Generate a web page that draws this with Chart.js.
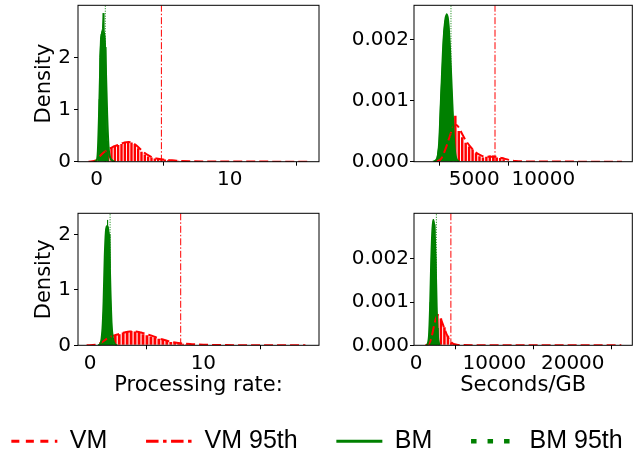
<!DOCTYPE html>
<html>
<head>
<meta charset="utf-8">
<script src="https://cdn.jsdelivr.net/npm/chart.js@4.4.0/dist/chart.umd.min.js"></script>
<style>
  html, body { margin: 0; padding: 0; background: #fff; overflow: hidden; }
  body { width: 639px; height: 452px; position: relative; }
  canvas { position: absolute; }
</style>
</head>
<body>
<canvas id="rateTop" width="320" height="210" style="left:0;top:0"></canvas>
<canvas id="secTop" width="319" height="210" style="left:320px;top:0"></canvas>
<canvas id="rateBottom" width="320" height="252" style="left:0;top:200px"></canvas>
<canvas id="secBottom" width="319" height="252" style="left:320px;top:200px"></canvas>
<canvas id="legendCanvas" width="700" height="120" style="left:-33.5px;top:389.5px"></canvas>
<script>
const RED = '#ff0000';
const GREEN = '#008000';

// Tick values and labels
const rateTicksX = [0, 10];
const rateTicksY = [0, 1, 2];
const rateTickLabelsY = ['0', '1', '2'];
const secTopTicksX = [5000, 10000];
const secBottomTicksX = [0, 10000, 20000];
const secTicksY = [0, 0.001, 0.002];
const secTickLabelsY = ['0.000', '0.001', '0.002'];

// Top left: processing rate
const rateTopVmBinX = [0.625, 0.875, 1.125, 1.375, 1.625, 1.875, 2.125, 2.375, 2.625, 2.875, 3.125, 3.375, 3.625, 3.875, 4.125, 4.375, 4.625, 4.875, 5.125, 5.375, 5.625, 5.875, 6.125, 6.375, 6.625, 6.875];
const rateTopVmBinY = [0.10, 0.21, 0.27, 0.30, 0.32, 0.34, 0.36, 0.38, 0.37, 0.33, 0.26, 0.19, 0.14, 0.10, 0.08, 0.06, 0.05, 0.04, 0.04, 0.03, 0.03, 0.02, 0.02, 0.01, 0.01, 0.01];
const rateTopVmKdeX = [-0.6, 0, 0.3, 0.6, 0.9, 1.2, 1.5, 1.8, 2.1, 2.4, 2.7, 3.0, 3.3, 3.6, 3.9, 4.2, 4.5, 5.0, 5.5, 6.0, 7.0, 8.0, 10, 12, 14, 16];
const rateTopVmKdeY = [0, 0.03, 0.12, 0.19, 0.24, 0.28, 0.31, 0.34, 0.37, 0.38, 0.36, 0.31, 0.24, 0.17, 0.12, 0.08, 0.06, 0.04, 0.03, 0.02, 0.01, 0.005, 0.003, 0.002, 0.001, 0];
const rateTopBmHistX = [0.1, 0.15, 0.2, 0.25, 0.3, 0.35, 0.4, 0.45, 0.5, 0.55, 0.6, 0.65, 0.7, 0.75, 0.8, 0.85, 0.9];
const rateTopBmHistY = [0, 0.3, 1.2, 2.0, 2.35, 2.45, 2.5, 2.55, 2.85, 2.5, 2.45, 2.2, 1.6, 0.9, 0.4, 0.1, 0];
const rateTopBmKdeX = [-0.2, 0, 0.1, 0.2, 0.3, 0.4, 0.5, 0.6, 0.7, 0.8, 0.9, 1.0, 1.2, 1.4];
const rateTopBmKdeY = [0, 0.02, 0.2, 1.0, 2.0, 2.45, 2.5, 2.4, 1.8, 0.9, 0.3, 0.1, 0.02, 0];
const rateTopP95 = [4.87, 0.66]; // VM, BM

// Top right: seconds per GB
const secTopVmBinX = [3375, 3625, 3875, 4125, 4375, 4625, 4875, 5125, 5375, 5625, 5875, 6125, 6375, 6625, 6875, 7125, 7375];
const secTopVmBinY = [0.00060, 0.00075, 0.00050, 0.00040, 0.00031, 0.00025, 0.00020, 0.00014, 0.00009, 0.00007, 0.00008, 0.00010, 0.00010, 0.00007, 0.00006, 0.00004, 0.00001];
const secTopVmKdeX = [2200, 2600, 2900, 3200, 3500, 3700, 3900, 4100, 4400, 4700, 5000, 5400, 5800, 6200, 6600, 7000, 7500, 8000, 9000, 11000, 13000, 15700];
const secTopVmKdeY = [0, 0.00005, 0.0002, 0.0004, 0.00058, 0.0006, 0.00055, 0.00046, 0.00034, 0.00025, 0.00017, 0.00011, 0.00008, 0.00008, 0.00008, 0.00006, 0.00003, 0.00001, 0.000004, 0.000002, 0.000001, 0];
const secTopBmHistX = [2150, 2300, 2450, 2560, 2680, 2780, 2880, 2950, 3000, 3050, 3120, 3200, 3280, 3330, 3400, 3500, 3600, 3700];
const secTopBmHistY = [0, 0.00005, 0.0003, 0.0010, 0.00155, 0.0021, 0.0023, 0.00235, 0.00242, 0.0023, 0.0023, 0.0020, 0.0016, 0.0013, 0.00095, 0.00035, 0.0001, 0];
const secTopBmKdeX = [2000, 2300, 2450, 2600, 2750, 2900, 3000, 3100, 3250, 3400, 3550, 3700, 3900];
const secTopBmKdeY = [0, 0.00005, 0.0003, 0.0011, 0.0019, 0.00232, 0.0024, 0.00232, 0.0018, 0.001, 0.0003, 0.00005, 0];
const secTopP95 = [6500, 3310];

// Bottom left: processing rate
const rateBottomVmBinX = [1.875, 2.225, 2.575, 2.925, 3.275, 3.625, 3.975, 4.325, 4.675, 5.025, 5.375, 5.725, 6.075, 6.425, 6.775, 7.125, 7.475, 7.825, 8.175, 8.525, 8.875, 9.225, 9.575];
const rateBottomVmBinY = [0.15, 0.18, 0.20, 0.23, 0.25, 0.26, 0.25, 0.23, 0.20, 0.18, 0.16, 0.14, 0.12, 0.10, 0.08, 0.06, 0.05, 0.04, 0.03, 0.02, 0.02, 0.01, 0.01];
const rateBottomVmKdeX = [-0.3, 0.5, 1.0, 1.5, 2.0, 2.5, 3.0, 3.5, 4.0, 4.5, 5.0, 5.5, 6.0, 6.5, 7.0, 7.5, 8.0, 9.0, 10, 12, 14, 16, 19];
const rateBottomVmKdeY = [0, 0.01, 0.05, 0.12, 0.17, 0.2, 0.23, 0.25, 0.25, 0.23, 0.2, 0.17, 0.13, 0.1, 0.07, 0.05, 0.035, 0.02, 0.01, 0.004, 0.002, 0.001, 0];
const rateBottomBmHistX = [0.9, 1.0, 1.1, 1.2, 1.27, 1.33, 1.38, 1.45, 1.5, 1.53, 1.57, 1.62, 1.7, 1.75, 1.8, 1.87, 1.95, 2.1];
const rateBottomBmHistY = [0, 0.05, 0.25, 0.65, 1.0, 1.6, 2.0, 2.1, 2.15, 2.26, 2.1, 2.05, 2.0, 1.4, 0.9, 0.4, 0.1, 0];
const rateBottomBmKdeX = [0.7, 0.9, 1.1, 1.2, 1.3, 1.4, 1.5, 1.6, 1.7, 1.8, 1.9, 2.0, 2.2, 2.4];
const rateBottomBmKdeY = [0, 0.02, 0.3, 0.8, 1.6, 2.05, 2.15, 2.1, 1.8, 1.0, 0.4, 0.15, 0.02, 0];
const rateBottomP95 = [8.0, 1.77];

// Bottom right: seconds per GB
const secBottomVmBinX = [2275, 2725, 3175, 3625, 4075, 4525, 4975, 5425];
const secBottomVmBinY = [0.00030, 0.00072, 0.00062, 0.00042, 0.00022, 0.00006, 0.00002, 0.00001];
const secBottomVmKdeX = [1200, 1700, 2000, 2300, 2600, 2800, 3000, 3300, 3600, 3900, 4200, 4500, 4800, 5200, 6000, 8000, 12000, 18000, 26200];
const secBottomVmKdeY = [0, 0.00005, 0.0002, 0.00045, 0.00065, 0.0007, 0.00068, 0.00055, 0.0004, 0.00026, 0.00014, 0.00007, 0.00003, 0.000015, 0.000005, 0.000002, 0.000001, 0.0000005, 0];
const secBottomBmHistX = [1600, 1700, 1800, 1900, 1970, 2050, 2150, 2220, 2300, 2400, 2520, 2600, 2700, 2800, 2900];
const secBottomBmHistY = [0, 0.0003, 0.0010, 0.0016, 0.0020, 0.0025, 0.0028, 0.00292, 0.0028, 0.0026, 0.0020, 0.0010, 0.0004, 0.0001, 0];
const secBottomBmKdeX = [1400, 1650, 1800, 1950, 2100, 2220, 2350, 2500, 2650, 2800, 3000];
const secBottomBmKdeY = [0, 0.0002, 0.0009, 0.002, 0.0027, 0.0029, 0.0027, 0.002, 0.0008, 0.0002, 0];
const secBottomP95 = [4450, 2600];

const tickFont = { family: 'DejaVu Sans', size: 20 };
const titleFont = { family: 'DejaVu Sans', size: 21 };

function pairs(xs, ys) {
  return xs.map((x, i) => ({ x: x, y: ys[i] }));
}

// Black box round the plot area, like matplotlib spines
const framePlugin = {
  id: 'frame',
  afterDatasetsDraw(chart) {
    const a = chart.chartArea;
    const ctx = chart.ctx;
    ctx.save();
    ctx.strokeStyle = '#000';
    ctx.lineWidth = 1;
    ctx.strokeRect(a.left, a.top, a.right - a.left, a.bottom - a.top);
    ctx.restore();
  }
};

function clearPadding(scale) {
  scale.paddingTop = 0;
  scale.paddingBottom = 0;
  scale.paddingLeft = 0;
  scale.paddingRight = 0;
}

// Build one density panel
function buildPanel(id, p) {
  const datasets = [
    {
      type: 'bar', label: 'VM hist', data: pairs(p.vmBinX, p.vmBinY),
      backgroundColor: RED, borderWidth: 0, categoryPercentage: 0.72, barPercentage: 1, order: 6
    },
    {
      type: 'line', label: 'BM hist', data: pairs(p.bmHistX, p.bmHistY),
      borderColor: GREEN, backgroundColor: GREEN, borderWidth: 1, fill: 'origin', pointRadius: 0, order: 5
    },
    {
      type: 'line', label: 'VM', data: pairs(p.vmKdeX, p.vmKdeY),
      borderColor: RED, borderWidth: 2, borderDash: [9, 4], pointRadius: 0, fill: false,
      cubicInterpolationMode: 'monotone', order: 4
    },
    {
      type: 'line', label: 'BM', data: pairs(p.bmKdeX, p.bmKdeY),
      borderColor: GREEN, borderWidth: 2, pointRadius: 0, fill: false,
      cubicInterpolationMode: 'monotone', order: 3
    },
    {
      type: 'line', label: 'VM 95th', data: [{ x: p.p95[0], y: 0 }, { x: p.p95[0], y: p.yMax }],
      borderColor: RED, borderWidth: 1, borderDash: [7, 2, 1.5, 2], pointRadius: 0, fill: false, order: 2
    },
    {
      type: 'line', label: 'BM 95th', data: [{ x: p.p95[1], y: 0 }, { x: p.p95[1], y: p.yMax }],
      borderColor: GREEN, borderWidth: 1, borderDash: [1, 1.5], pointRadius: 0, fill: false, order: 1
    }
  ];

  return new Chart(document.getElementById(id), {
    type: 'bar',
    data: { datasets: datasets },
    options: {
      responsive: false,
      animation: false,
      devicePixelRatio: 1,
      layout: { padding: { top: p.top, right: p.right, left: 0, bottom: 0 } },
      plugins: { legend: { display: false }, tooltip: { enabled: false } },
      scales: {
        x: {
          type: 'linear', min: p.xMin, max: p.xMax, offset: false,
          afterBuildTicks: (s) => { s.ticks = p.ticksX.map(v => ({ value: v })); },
          afterFit: (s) => { s.height = p.xHeight; clearPadding(s); },
          grid: { drawOnChartArea: false, drawTicks: true, tickLength: 4, tickColor: '#000' },
          border: { display: false },
          ticks: { color: '#000', font: tickFont, padding: 2, maxRotation: 0, autoSkip: false, callback: (v) => String(v) },
          title: { display: !!p.xTitle, text: p.xTitle, color: '#000', font: titleFont, padding: { top: 0, bottom: 54 } }
        },
        y: {
          min: 0, max: p.yMax,
          afterBuildTicks: (s) => { s.ticks = p.ticksY.map(v => ({ value: v })); },
          afterFit: (s) => { s.width = p.yWidth; clearPadding(s); },
          grid: { drawOnChartArea: false, drawTicks: true, tickLength: 4, tickColor: '#000' },
          border: { display: false },
          ticks: { color: '#000', font: tickFont, padding: p.yPad, autoSkip: false, callback: (v, i) => p.labelsY[i] },
          title: { display: !!p.yTitle, text: p.yTitle, color: '#000', font: titleFont, padding: { top: 32, bottom: 0 } }
        }
      }
    },
    plugins: [framePlugin]
  });
}

buildPanel('rateTop', {
  vmBinX: rateTopVmBinX, vmBinY: rateTopVmBinY, vmKdeX: rateTopVmKdeX, vmKdeY: rateTopVmKdeY,
  bmHistX: rateTopBmHistX, bmHistY: rateTopBmHistY, bmKdeX: rateTopBmKdeX, bmKdeY: rateTopBmKdeY,
  p95: rateTopP95, xMin: -1.39, xMax: 16.7, yMax: 3.0,
  ticksX: rateTicksX, ticksY: rateTicksY, labelsY: rateTickLabelsY,
  top: 5.3, right: 1, yWidth: 78, xHeight: 48.3, yPad: 3, yTitle: 'Density', xTitle: ''
});

buildPanel('secTop', {
  vmBinX: secTopVmBinX, vmBinY: secTopVmBinY, vmKdeX: secTopVmKdeX, vmKdeY: secTopVmKdeY,
  bmHistX: secTopBmHistX, bmHistY: secTopBmHistY, bmKdeX: secTopBmKdeX, bmKdeY: secTopBmKdeY,
  p95: secTopP95, xMin: 630, xMax: 16450, yMax: 0.002556,
  ticksX: secTopTicksX, ticksY: secTicksY, labelsY: secTickLabelsY,
  top: 5.3, right: 6.7, yWidth: 94, xHeight: 48.3, yPad: 1, yTitle: '', xTitle: ''
});

buildPanel('rateBottom', {
  vmBinX: rateBottomVmBinX, vmBinY: rateBottomVmBinY, vmKdeX: rateBottomVmKdeX, vmKdeY: rateBottomVmKdeY,
  bmHistX: rateBottomBmHistX, bmHistY: rateBottomBmHistY, bmKdeX: rateBottomBmKdeX, bmKdeY: rateBottomBmKdeY,
  p95: rateBottomP95, xMin: -1.06, xMax: 20.2, yMax: 2.38,
  ticksX: rateTicksX, ticksY: rateTicksY, labelsY: rateTickLabelsY,
  top: 13.3, right: 1, yWidth: 78, xHeight: 106.7, yPad: 3, yTitle: 'Density', xTitle: 'Processing rate:'
});

buildPanel('secBottom', {
  vmBinX: secBottomVmBinX, vmBinY: secBottomVmBinY, vmKdeX: secBottomVmKdeX, vmKdeY: secBottomVmKdeY,
  bmHistX: secBottomBmHistX, bmHistY: secBottomBmHistY, bmKdeX: secBottomBmKdeX, bmKdeY: secBottomBmKdeY,
  p95: secBottomP95, xMin: -256, xMax: 27600, yMax: 0.003056,
  ticksX: secBottomTicksX, ticksY: secTicksY, labelsY: secTickLabelsY,
  top: 13.3, right: 6.7, yWidth: 94, xHeight: 106.7, yPad: 1, yTitle: '', xTitle: 'Seconds/GB'
});

// Shared legend along the bottom
new Chart(document.getElementById('legendCanvas'), {
  type: 'line',
  data: {
    datasets: [
      { label: 'VM', data: [], borderColor: RED, borderWidth: 3, borderDash: [8, 6.5] },
      { label: 'VM 95th', data: [], borderColor: RED, borderWidth: 3, borderDash: [12.5, 4.5, 3.5, 4.5] },
      { label: 'BM', data: [], borderColor: GREEN, borderWidth: 3, borderDash: [] },
      { label: 'BM 95th', data: [], borderColor: GREEN, borderWidth: 4.5, borderDash: [5.5, 11] }
    ]
  },
  options: {
    responsive: false,
    animation: false,
    devicePixelRatio: 1,
    layout: { padding: 0 },
    scales: { x: { display: false }, y: { display: false } },
    plugins: {
      tooltip: { enabled: false },
      legend: {
        display: true,
        position: 'top',
        labels: {
          usePointStyle: true,
          pointStyleWidth: 46,
          padding: 38.7,
          color: '#000',
          font: { family: 'Liberation Sans', size: 25 },
          generateLabels: (chart) => chart.data.datasets.map((ds, i) => ({
            text: ds.label,
            datasetIndex: i,
            strokeStyle: ds.borderColor,
            fillStyle: ds.borderColor,
            lineWidth: ds.borderWidth,
            lineDash: ds.borderDash,
            lineCap: 'butt',
            pointStyle: 'line',
            hidden: false
          }))
        }
      }
    }
  }
});
</script>
</body>
</html>
